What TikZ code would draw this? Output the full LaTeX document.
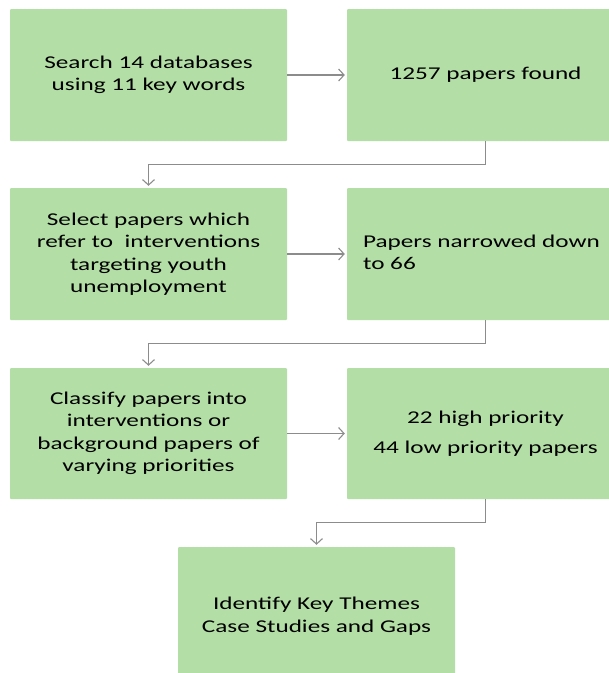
\documentclass[tikz,border=0pt]{standalone}
\usepackage{fontspec}
\setmainfont{Carlito}[FakeStretch=1.4]
\usetikzlibrary{arrows.meta}
\definecolor{boxgreen}{RGB}{179,222,165}
\definecolor{linegray}{RGB}{140,140,140}
\begin{document}
\begin{tikzpicture}[x=1pt,y=-1pt,
  box/.style={fill=boxgreen,draw=none,rounded corners=1pt,minimum width=277pt,minimum height=132pt,
    inner sep=0pt,align=center,font=\fontsize{18}{22.5}\selectfont,text=black},
  conn/.style={draw=linegray,line width=1.1pt,shorten >=2pt,-{Straight Barb[length=5.5pt,width=12pt]}}]
\useasboundingbox (0,0) rectangle (609,673);
\node[box] (b1) at (148.5,75) {Search 14 databases\\using 11 key words};
\node[box] (b2) at (485.5,75) {1257 papers found};
\node[box] (b3) at (148.5,254) {Select papers which\\refer to\ \ interventions\\targeting youth\\unemployment};
\node[box] (b4) at (485.5,254) {\begin{tabular}{@{}l@{}}\hspace*{-8pt}Papers narrowed down\\[-1pt]\hspace*{-8pt}to 66\end{tabular}};
\node[box,minimum height=131pt] (b5) at (148.5,433.5) {Classify papers into\\interventions or\\background papers of\\varying priorities};
\node[box,minimum height=131pt] (b6) at (485.5,433.5) {22 high priority\\[8pt]44 low priority papers};
\node[box,minimum height=135pt,text depth=0pt] (b7) at (316.5,614.5) {Identify Key Themes\\Case Studies and Gaps};
\draw[conn] (b1) -- (b2);
\draw[conn] (b3) -- (b4);
\draw[conn] (b5) -- (b6);
\draw[conn] (b2.south) -- ++(0,23.5) -| (b3.north);
\draw[conn] (b4.south) -- ++(0,23.5) -| (b5.north);
\draw[conn] (b6.south) -- ++(0,23.5) -| (b7.north);
\end{tikzpicture}
\end{document}
